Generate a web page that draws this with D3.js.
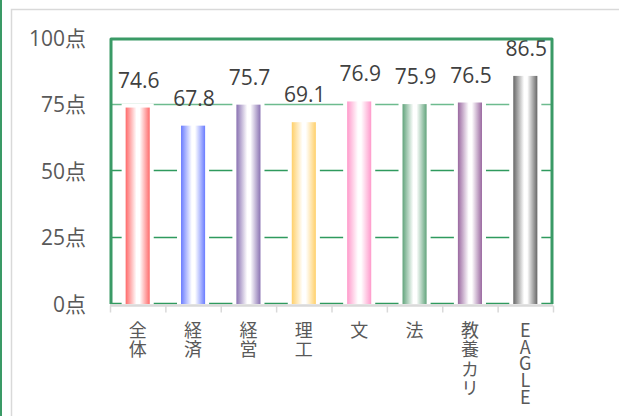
<!DOCTYPE html>
<html>
<head>
<meta charset="utf-8">
<script src="https://cdn.jsdelivr.net/npm/d3@7"></script>
<style>
  body { margin: 0; background: #fff; }
  svg { display: block; }
  text { font-family: "Open Sans", "Noto Sans CJK JP", sans-serif; }
  .xlabel { font-family: "Noto Sans CJK JP", sans-serif; writing-mode: vertical-rl; text-orientation: upright; }
</style>
</head>
<body>
<div id="chart"></div>
<script>
// data
const categories = ['全体', '経済', '経営', '理工', '文', '法', '教養カリ', 'EAGLE'];
const scores = [74.6, 67.8, 75.7, 69.1, 76.9, 75.9, 76.5, 86.5];
const barColors = ['#ff6b6b', '#6a7cff', '#8a72b2', '#ffd06a', '#ff9acb', '#62a47c', '#9a68a0', '#676767'];
const yTicks = [0, 25, 50, 75, 100];

const width = 619, height = 416;
const margin = { top: 38, right: 66, bottom: 112, left: 110 };
const green = '#3a9a66';

const svg = d3.select('#chart').append('svg')
  .attr('width', width)
  .attr('height', height);

// outer frame bits (cell border + chart area border)
svg.append('line')
  .attr('x1', 1).attr('x2', 1).attr('y1', 0).attr('y2', height)
  .attr('stroke', green).attr('stroke-width', 2);
svg.append('path')
  .attr('d', `M11.5,${height} V9.5 H${width}`)
  .attr('fill', 'none').attr('stroke', '#d9d9d9').attr('stroke-width', 1.5);

const x = d3.scaleBand()
  .domain(categories)
  .range([margin.left, width - margin.right])
  .paddingInner(0.565)
  .paddingOuter(0.2825);

const y = d3.scaleLinear()
  .domain([0, 100])
  .range([height - margin.bottom, margin.top]);

// gradients, colour at the edges and white in the middle
const defs = svg.append('defs');
barColors.forEach((c, i) => {
  const g = defs.append('linearGradient')
    .attr('id', 'grad' + i)
    .attr('x1', '0%').attr('x2', '100%').attr('y1', '0%').attr('y2', '0%');
  g.append('stop').attr('offset', '0%').attr('stop-color', c);
  g.append('stop').attr('offset', '45%').attr('stop-color', '#fff');
  g.append('stop').attr('offset', '58%').attr('stop-color', '#fff');
  g.append('stop').attr('offset', '100%').attr('stop-color', c);
});

// gridlines
svg.append('g')
  .selectAll('line')
  .data(yTicks.slice(0, -1))
  .join('line')
  .attr('x1', margin.left).attr('x2', width - margin.right)
  .attr('y1', d => Math.round(y(d)) - 0.5).attr('y2', d => Math.round(y(d)) - 0.5)
  .attr('stroke', d => d === 75 ? '#6dbb8e' : '#2f9a5e')
  .attr('stroke-width', 1.4);

// white halo behind bars (cuts the gridlines)
svg.append('g')
  .selectAll('rect')
  .data(scores)
  .join('rect')
  .attr('x', (d, i) => x(categories[i]) - 4)
  .attr('width', x.bandwidth() + 8)
  .attr('y', d => y(d) - 2)
  .attr('height', d => y(0) - y(d) + 4)
  .attr('fill', '#fff');

// bars
svg.append('g')
  .selectAll('rect')
  .data(scores)
  .join('rect')
  .attr('x', (d, i) => x(categories[i]))
  .attr('width', x.bandwidth())
  .attr('y', d => y(d) + 2)
  .attr('height', d => y(0) - y(d) - 2)
  .attr('fill', (d, i) => `url(#grad${i})`);

// value labels
svg.append('g')
  .selectAll('text')
  .data(scores)
  .join('text')
  .attr('x', (d, i) => x(categories[i]) + x.bandwidth() / 2 + 1)
  .attr('y', d => y(d) - 18)
  .attr('text-anchor', 'middle')
  .attr('fill', '#404040')
  .attr('font-size', 21)
  .text(d => d.toFixed(1));

// plot area frame (left, top, right)
svg.append('path')
  .attr('d', `M${margin.left + 1},${y(0)} V${margin.top + 1} H${width - margin.right - 1} V${y(0)}`)
  .attr('fill', 'none')
  .attr('stroke', green)
  .attr('stroke-width', 3)
  .attr('stroke-linejoin', 'round');

// x axis: gray line and ticks on band edges
const xAxisY = y(0) + 1.5;
svg.append('line')
  .attr('x1', margin.left).attr('x2', width - margin.right)
  .attr('y1', xAxisY).attr('y2', xAxisY)
  .attr('stroke', '#d9d9d9').attr('stroke-width', 2.5);
const edges = categories.map(c => x(c) - x.step() * x.paddingInner() / 2)
  .concat([width - margin.right]);
svg.append('g')
  .selectAll('line')
  .data(edges)
  .join('line')
  .attr('x1', d => d + 0.5).attr('x2', d => d + 0.5)
  .attr('y1', xAxisY).attr('y2', xAxisY + 7)
  .attr('stroke', '#d9d9d9').attr('stroke-width', 1.5);

// y tick labels
svg.append('g')
  .selectAll('text')
  .data(yTicks)
  .join('text')
  .attr('x', 86)
  .attr('y', d => y(d))
  .attr('dy', '0.36em')
  .attr('text-anchor', 'end')
  .attr('fill', '#595959')
  .attr('font-size', 21)
  .text(d => d + '点');

// x labels, set vertically (one character per row)
svg.append('g')
  .selectAll('text')
  .data(categories)
  .join('text')
  .attr('class', 'xlabel')
  .attr('x', d => x(d) + x.bandwidth() / 2)
  .attr('y', y(0) + 17)
  .attr('fill', '#595959')
  .attr('font-size', 18)
  .attr('letter-spacing', d => /^[A-Z]+$/.test(d) ? -1.2 : 1.5)
  .text(d => d);
</script>
</body>
</html>
